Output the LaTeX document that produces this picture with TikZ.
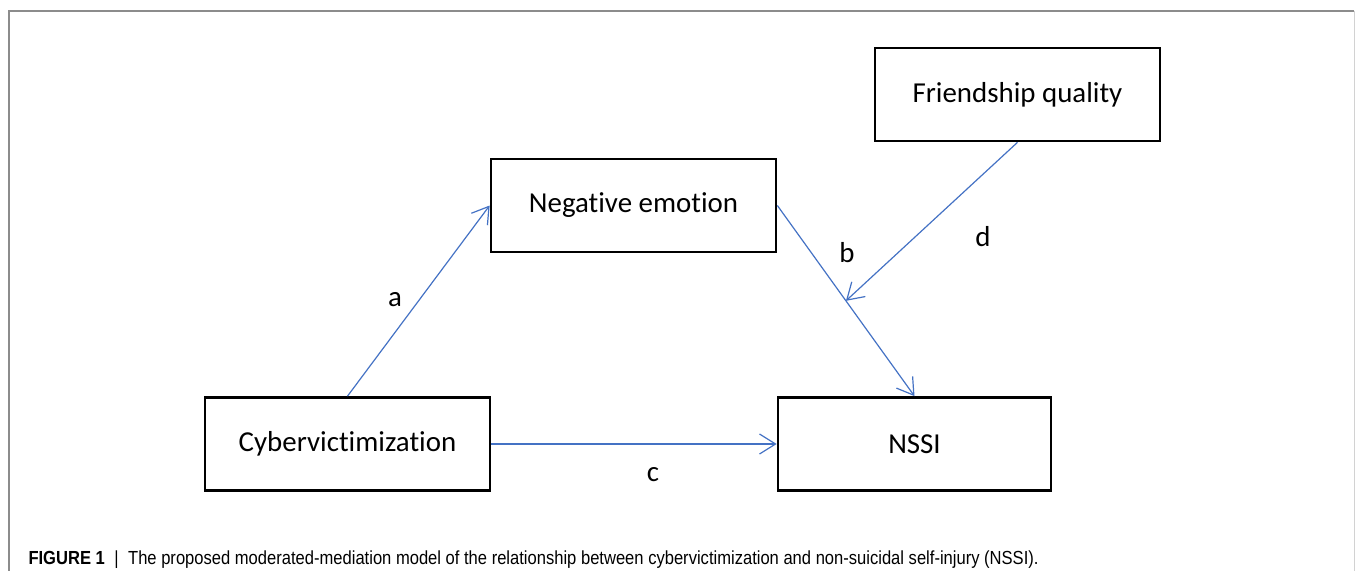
\documentclass[tikz,border=0pt]{standalone}
\usepackage{fontspec}
\setmainfont[Ligatures={TeX,NoCommon}]{Carlito}
\newfontfamily\capfont[FakeStretch=0.875]{Liberation Sans}
\usepackage{tikz}
\usetikzlibrary{arrows.meta}
\usetikzlibrary{calc}
\definecolor{flowblue}{HTML}{4472C4}
\tikzset{box/.style={draw, line width=2.7bp, minimum height=93bp, inner sep=0pt, font=\fontsize{29}{34}\selectfont}}
\tikzset{flow/.style={draw=flowblue, line width=1.2bp, -{Straight Barb[length=16bp,width=20bp]}}}

\begin{document}
\begin{tikzpicture}[x=1bp, y=-1bp, every node/.style={font=\fontsize{29}{34}\selectfont}]
  \useasboundingbox (0,0) rectangle (1355,571);

  % frame
  \draw[gray!90, line width=1.2bp] (9,571) -- (9,11) -- (1354,11);
  \draw[gray!35, line width=1bp] (1354,11) -- (1354,571);

  \node[box, minimum width=285bp] at (1017.5, 94.5) (fq) {Friendship quality};
  \node[box, minimum width=285bp] at (633.5, 205.5) (ne) {Negative emotion};
  \node[box, minimum width=285bp] at (347.5, 444)   (cv) {Cybervictimization};
  \node[box, minimum width=273bp] at (914.5, 444)   (nssi) {NSSI};

  \coordinate (mid) at ($(ne.east)!0.5!(nssi.north)$);

  \draw[flow] (cv.north) -- (ne.west);
  \draw[flow] (ne.east)  -- (nssi.north);
  \draw[flow] (cv.east)  -- (nssi.west);
  \draw[flow] (fq.south) -- (mid);

  \node at (395, 300) (la) {a};
  \node at (847, 253) (lb) {b};
  \node at (653, 475) (lc) {c};
  \node at (983, 237) (ld) {d};

  \node[anchor=base west, font=\capfont\fontsize{19}{22}\selectfont] at (25, 564) (cap)
    {\textbf{FIGURE 1}\enspace|\enspace The proposed moderated-mediation model of the relationship between cybervictimization and non-suicidal self-injury (NSSI).};
\end{tikzpicture}
\end{document}
